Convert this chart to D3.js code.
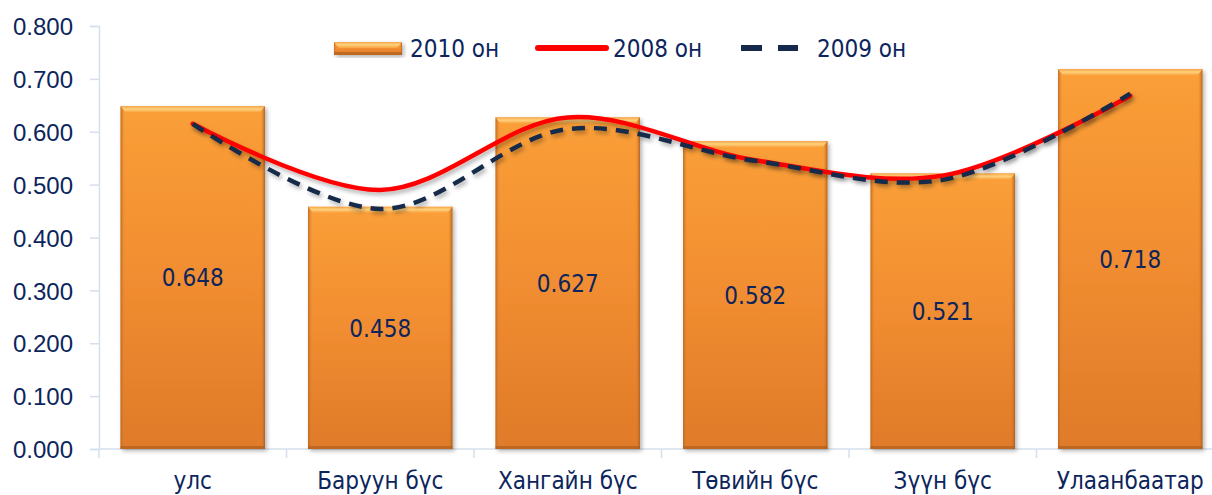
<!DOCTYPE html>
<html>
<head>
<meta charset="utf-8">
<script src="https://cdn.jsdelivr.net/npm/d3@7"></script>
<style>
  body { margin: 0; background: #fff; overflow: hidden; }
  svg { display: block; font-family: "DejaVu Sans Condensed", "DejaVu Sans", sans-serif; }
</style>
</head>
<body>
<svg id="chart"></svg>
<script>
// chart data
var categories = ["улс", "Баруун бүс", "Хангайн бүс", "Төвийн бүс", "Зүүн бүс", "Улаанбаатар"];
var values2010 = [0.648, 0.458, 0.627, 0.582, 0.521, 0.718];
var values2008 = [0.615, 0.490, 0.627, 0.546, 0.517, 0.668];
var values2009 = [0.615, 0.454, 0.605, 0.545, 0.509, 0.672];
var yTicks = [0, 0.1, 0.2, 0.3, 0.4, 0.5, 0.6, 0.7, 0.8];
var legendNames = ["2010 он", "2008 он", "2009 он"];

var W = 1212, H = 495;
var textColor = "#0c255c";
var axisColor = "#d5dfed";

var svg = d3.select("#chart").attr("width", W).attr("height", H);

// scales
var xScale = d3.scaleBand().domain(categories).range([99, 1224]).paddingInner(0.23).paddingOuter(0.115);
var xCenter = d3.scalePoint().domain(categories).range([99 + 187.5 / 2, 1224 - 187.5 / 2]);
var yScale = d3.scaleLinear().domain([0, 0.8]).range([449, 26]);

// defs: gradients and shadows
var defs = svg.append("defs");
var grad = defs.append("linearGradient").attr("id", "barGrad").attr("x1", 0).attr("y1", 0).attr("x2", 0).attr("y2", 1);
grad.append("stop").attr("offset", "0%").attr("stop-color", "#fa9f38");
grad.append("stop").attr("offset", "50%").attr("stop-color", "#f18d30");
grad.append("stop").attr("offset", "100%").attr("stop-color", "#df7a2a");

var sideGrad = defs.append("linearGradient").attr("id", "sideGrad").attr("x1", 0).attr("y1", 0).attr("x2", 1).attr("y2", 0);
sideGrad.append("stop").attr("offset", "0%").attr("stop-color", "#b9651f").attr("stop-opacity", 0.9);
sideGrad.append("stop").attr("offset", "3%").attr("stop-color", "#e58a35").attr("stop-opacity", 0);
sideGrad.append("stop").attr("offset", "97%").attr("stop-color", "#e58a35").attr("stop-opacity", 0);
sideGrad.append("stop").attr("offset", "100%").attr("stop-color", "#a85a1c").attr("stop-opacity", 0.9);

var topGrad = defs.append("linearGradient").attr("id", "topGrad").attr("x1", 0).attr("y1", 0).attr("x2", 0).attr("y2", 1);
topGrad.append("stop").attr("offset", "0%").attr("stop-color", "#f7a446");
topGrad.append("stop").attr("offset", "45%").attr("stop-color", "#ffd27e");
topGrad.append("stop").attr("offset", "100%").attr("stop-color", "#f9a23e");

var shadow = defs.append("filter").attr("id", "shadow").attr("x", "-10%").attr("y", "-10%").attr("width", "130%").attr("height", "130%");
shadow.append("feDropShadow").attr("dx", 2).attr("dy", 2).attr("stdDeviation", 2)
  .attr("flood-color", "#000").attr("flood-opacity", 0.3);

var lineShadow = defs.append("filter").attr("id", "lineShadow").attr("x", "-10%").attr("y", "-20%").attr("width", "130%").attr("height", "150%");
lineShadow.append("feDropShadow").attr("dx", 2).attr("dy", 3).attr("stdDeviation", 2)
  .attr("flood-color", "#000").attr("flood-opacity", 0.3);

// y axis
var yAxis = d3.axisLeft(yScale).tickValues(yTicks).tickFormat(d3.format(".3f")).tickSize(9).tickPadding(17);
var gy = svg.append("g").attr("transform", "translate(99,0)").call(yAxis);
gy.select(".domain").attr("stroke", axisColor).attr("stroke-width", 1.5);
gy.selectAll(".tick line").attr("stroke", axisColor).attr("stroke-width", 1.5);
gy.selectAll(".tick text").attr("fill", textColor).style("font-size", "24px").attr("dy", "0.36em");

// x axis
var gx = svg.append("g").attr("transform", "translate(0,449)");
gx.append("line").attr("x1", 99).attr("x2", 1224).attr("stroke", axisColor).attr("stroke-width", 1.5);
gx.selectAll(".sep").data(d3.range(categories.length + 1)).enter().append("line")
  .attr("class", "sep")
  .attr("x1", function (i) { return 99 + i * xScale.step(); })
  .attr("x2", function (i) { return 99 + i * xScale.step(); })
  .attr("y1", 0).attr("y2", 9)
  .attr("stroke", axisColor).attr("stroke-width", 1.5);
gx.selectAll(".cat").data(categories).enter().append("text")
  .attr("class", "cat")
  .attr("x", function (d) { return xCenter(d); })
  .attr("y", 40)
  .attr("text-anchor", "middle")
  .attr("fill", textColor)
  .style("font-size", "24px")
  .text(function (d) { return d; });

// bars
function drawBar(g, x, y, w, h) {
  g.append("rect").attr("x", x).attr("y", y).attr("width", w).attr("height", h)
    .attr("fill", "url(#barGrad)").attr("filter", "url(#shadow)");
  g.append("rect").attr("x", x).attr("y", y).attr("width", w).attr("height", h)
    .attr("fill", "url(#sideGrad)");
  g.append("path")
    .attr("d", "M" + x + "," + y + "H" + (x + w) + "L" + (x + w - 5) + "," + (y + 6) + "H" + (x + 5) + "Z")
    .attr("fill", "url(#topGrad)");
  g.append("rect").attr("x", x).attr("y", y + h - 3).attr("width", w).attr("height", 3)
    .attr("fill", "#a95a1d").attr("opacity", 0.6);
}

var bars = svg.append("g");
categories.forEach(function (c, i) {
  var g = bars.append("g");
  drawBar(g, xScale(c), yScale(values2010[i]), xScale.bandwidth(), yScale(0) - yScale(values2010[i]));
});

// bar value labels
svg.append("g").selectAll("text").data(values2010).enter().append("text")
  .attr("x", function (d, i) { return xCenter(categories[i]); })
  .attr("y", function (d) { return (yScale(d) + yScale(0)) / 2; })
  .attr("dy", "0.36em")
  .attr("text-anchor", "middle")
  .attr("fill", textColor)
  .style("font-size", "24px")
  .text(function (d) { return d3.format(".3f")(d); });

// lines
var line = d3.line()
  .curve(d3.curveCatmullRom.alpha(0.5))
  .x(function (d, i) { return xCenter(categories[i]); })
  .y(function (d) { return yScale(d); });

svg.append("path").datum(values2008)
  .attr("d", line).attr("fill", "none")
  .attr("stroke", "#ff0000").attr("stroke-width", 4.5).attr("stroke-linecap", "round")
  .attr("filter", "url(#lineShadow)");

svg.append("path").datum(values2009)
  .attr("d", line).attr("fill", "none")
  .attr("stroke", "#16294a").attr("stroke-width", 4.5).attr("stroke-dasharray", "13,9")
  .attr("filter", "url(#lineShadow)");

// legend
var legend = svg.append("g");
var lb = legend.append("g");
drawBar(lb, 334, 42, 68, 13);
legend.append("text").attr("x", 410).attr("y", 48).attr("dy", "0.36em").attr("fill", textColor)
  .style("font-size", "24px").text(legendNames[0]);
legend.append("line").attr("x1", 538).attr("x2", 606).attr("y1", 48).attr("y2", 48)
  .attr("stroke", "#ff0000").attr("stroke-width", 6).attr("stroke-linecap", "round");
legend.append("text").attr("x", 613).attr("y", 48).attr("dy", "0.36em").attr("fill", textColor)
  .style("font-size", "24px").text(legendNames[1]);
legend.append("line").attr("x1", 741).attr("x2", 798).attr("y1", 48).attr("y2", 48)
  .attr("stroke", "#16294a").attr("stroke-width", 6).attr("stroke-dasharray", "21,16");
legend.append("text").attr("x", 817).attr("y", 48).attr("dy", "0.36em").attr("fill", textColor)
  .style("font-size", "24px").text(legendNames[2]);
</script>
</body>
</html>
